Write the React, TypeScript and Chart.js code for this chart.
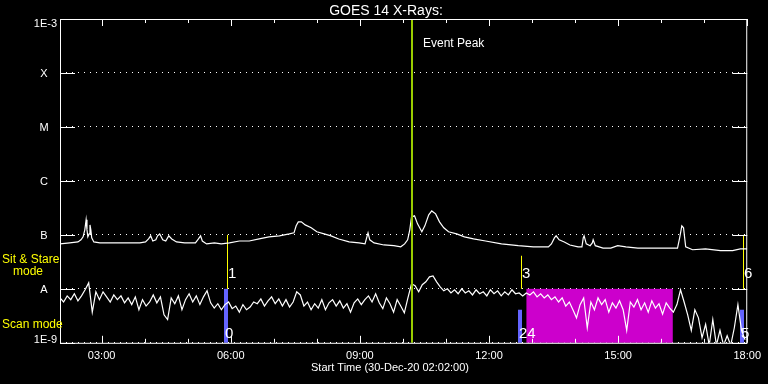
import { useEffect, useRef } from "react";
import { Chart, registerables } from "chart.js";

Chart.register(...registerables);

// ---- axis definitions ----
const startHour = 2 + 2 / 60; // 02:02
const endHour = 18;
const timeTicks = [3, 6, 9, 12, 15, 18];
const timeTickLabels = ["03:00", "06:00", "09:00", "12:00", "15:00", "18:00"];
const minorTickHours = [4, 5, 7, 8, 10, 11, 13, 14, 16, 17];
// flux in nW/m^2 (1 = 1E-9 W/m^2)
const fluxTicks = [1, 10, 100, 1000, 10000, 100000, 1000000];
const fluxTickLabels = ["1E-9", "A", "B", "C", "M", "X", "1E-3"];

const chartTitle = "GOES 14 X-Rays:";
const xTitle = "Start Time (30-Dec-20 02:02:00)";

// ---- long channel (1-8 A), hours / nW m^-2 ----
const longTimes = [
  2.03, 2.26, 2.45, 2.52, 2.57, 2.61, 2.64, 2.66, 2.68, 2.71,
  2.73, 2.75, 2.77, 2.82, 2.96, 3.42, 3.89, 4.02, 4.09, 4.14,
  4.19, 4.26, 4.30, 4.35, 4.42, 4.49, 4.56, 4.63, 4.74, 4.93,
  5.18, 5.25, 5.30, 5.34, 5.44, 5.62, 5.78, 5.97, 6.20, 6.43,
  6.66, 6.89, 7.13, 7.36, 7.47, 7.52, 7.57, 7.64, 7.73, 7.87,
  8.00, 8.17, 8.33, 8.51, 8.75, 8.98, 9.12, 9.17, 9.19, 9.23,
  9.33, 9.56, 9.79, 9.95, 10.04, 10.11, 10.16, 10.20, 10.27, 10.34,
  10.44, 10.51, 10.60, 10.67, 10.76, 10.85, 10.95, 11.06, 11.25, 11.43,
  11.64, 11.92, 12.29, 12.68, 13.03, 13.38, 13.45, 13.52, 13.56, 13.63,
  13.75, 13.88, 14.07, 14.16, 14.19, 14.21, 14.26, 14.35, 14.40, 14.42,
  14.47, 14.65, 14.83, 14.99, 15.18, 15.46, 15.81, 16.15, 16.38, 16.43,
  16.48, 16.52, 16.57, 16.73, 17.03, 17.38, 17.66, 17.84, 18.00,
];
const longFlux = [
  68, 71, 74, 81, 92, 124, 190, 124, 92, 104,
  153, 124, 88, 74, 71, 71, 71, 74, 84, 96,
  77, 81, 96, 104, 81, 77, 96, 84, 74, 71,
  71, 84, 96, 77, 68, 71, 68, 71, 77, 77,
  84, 92, 96, 104, 109, 147, 174, 174, 153, 135,
  114, 104, 96, 84, 74, 71, 68, 96, 109, 81,
  71, 65, 63, 60, 68, 81, 124, 215, 225, 160,
  114, 147, 235, 278, 245, 174, 135, 114, 104, 92,
  84, 77, 68, 63, 60, 60, 68, 88, 96, 81,
  74, 65, 60, 60, 88, 96, 68, 63, 71, 81,
  63, 57, 57, 63, 60, 57, 57, 57, 57, 88,
  147, 135, 60, 53, 55, 51, 51, 55, 55,
];

// ---- short channel (0.5-4 A), 5-minute samples from 02:02, nW m^-2 ----
const shortStepMinutes = 5;
const shortFlux = [
  6.8, 5.7, 7.4, 6.3, 8.1, 6.0, 7.4, 9.6, 12.9, 3.7,
  8.8, 6.3, 8.8, 7.1, 5.7, 7.7, 6.3, 7.4, 5.5, 6.8,
  5.1, 7.1, 4.1, 6.3, 4.8, 5.7, 7.7, 5.5, 7.1, 3.3,
  2.7, 6.8, 5.3, 7.4, 4.1, 6.3, 8.1, 5.7, 7.4, 5.1,
  7.1, 9.2, 5.5, 4.4, 5.3, 4.1, 5.1, 5.7, 4.3, 4.8,
  3.7, 5.1, 4.1, 4.6, 5.7, 5.3, 6.5, 4.8, 6.0, 7.1,
  5.3, 6.5, 4.8, 6.3, 4.6, 5.7, 8.8, 7.7, 4.8, 5.7,
  4.1, 5.3, 4.4, 6.3, 4.1, 5.5, 6.3, 4.8, 6.0, 4.4,
  5.3, 3.7, 5.5, 6.5, 5.1, 6.3, 7.4, 5.7, 8.1, 5.5,
  4.3, 6.8, 5.3, 3.7, 6.3, 4.8, 3.6, 6.8, 12.4, 11.4,
  8.8, 11.9, 13.5, 16.7, 17.4, 13.5, 10.9, 9.2, 10, 8.4,
  9.6, 8.1, 10, 8.4, 9.2, 7.7, 9.6, 8.1, 8.8, 7.4,
  9.6, 8.1, 9.2, 7.4, 8.8, 7.7, 9.6, 8.1, 8.4, 7.4,
  8.4, 7.7, 8.8, 7.1, 8.1, 6.8, 7.7, 6.3, 7.1, 5.7,
  6.8, 4.8, 5.7, 4.1, 2.9, 5.1, 6.8, 1.9, 5.7, 4.1,
  6.8, 5.1, 6.3, 3.7, 5.5, 4.4, 6.0, 4.1, 1.7, 5.7,
  4.6, 6.3, 4.1, 5.5, 3.7, 6.0, 4.4, 5.3, 3.4, 5.5,
  4.4, 3.7, 5.1, 9.6, 5.7, 3.3, 1.7, 4.1, 2.9, 1.24,
  2.2, 0.9, 2.7, 0.9, 1.7, 0.9, 1.35, 0.9, 1.9, 5.1,
  1.7, 1.14,
];

// ---- annotations ----
const eventPeakHour = 10.21;
const eventPeakLabel = "Event Peak";
const sitStareHours = [5.92, 12.75, 17.91];
const sitStareTop = [100, 41, 100];
const sitStareLabels = ["1", "3", "6"];
const scanHours = [5.88, 12.72, 17.87];
const scanTop = [10, 4.1, 4.1];
const scanLabels = ["0", "24", "5"];
const shadeStartHour = 12.87;
const shadeEndHour = 16.27;
const modeBaseFlux = 10; // A level

const FONT = "'Liberation Sans', Arial, sans-serif";

const overlayPlugin = {
  id: "goesOverlay",
  beforeDraw(chart: any) {
    const ctx = chart.ctx;
    ctx.save();
    ctx.fillStyle = "#000";
    ctx.fillRect(0, 0, chart.width, chart.height);
    ctx.restore();
  },
  beforeDatasetsDraw(chart: any) {
    const ctx = chart.ctx;
    const xs = chart.scales.x;
    const ys = chart.scales.y;
    const area = chart.chartArea;
    ctx.save();
    // magenta shaded block
    const sx0 = xs.getPixelForValue(shadeStartHour);
    const sx1 = xs.getPixelForValue(shadeEndHour);
    const sy0 = ys.getPixelForValue(modeBaseFlux);
    ctx.fillStyle = "#cc00cc";
    ctx.fillRect(sx0, sy0, sx1 - sx0, area.bottom - sy0);
    // scan-mode bars
    ctx.fillStyle = "#6464ff";
    scanHours.forEach((h, i) => {
      const x = xs.getPixelForValue(h);
      const yt = ys.getPixelForValue(scanTop[i]);
      ctx.fillRect(Math.round(x) - 2, yt, 4, area.bottom - yt);
    });
    // sit & stare lines
    ctx.strokeStyle = "#ffff00";
    ctx.lineWidth = 1;
    sitStareHours.forEach((h, i) => {
      const x = Math.round(xs.getPixelForValue(h)) + 0.5;
      const yb = ys.getPixelForValue(modeBaseFlux);
      const yt = ys.getPixelForValue(sitStareTop[i]);
      ctx.beginPath();
      ctx.moveTo(x, yb);
      ctx.lineTo(x, yt);
      ctx.stroke();
    });
    ctx.restore();
  },
  afterDatasetsDraw(chart: any) {
    const ctx = chart.ctx;
    const xs = chart.scales.x;
    const ys = chart.scales.y;
    const area = chart.chartArea;
    ctx.save();
    // event peak line
    const ex = xs.getPixelForValue(eventPeakHour);
    ctx.strokeStyle = "#99cc00";
    ctx.lineWidth = 2;
    ctx.beginPath();
    ctx.moveTo(Math.round(ex), area.top);
    ctx.lineTo(Math.round(ex), area.bottom);
    ctx.stroke();

    // box
    ctx.strokeStyle = "#fff";
    ctx.lineWidth = 1;
    ctx.strokeRect(area.left + 0.5, area.top + 0.5, area.right - area.left - 1, area.bottom - area.top);

    // y tick marks (both sides)
    ctx.beginPath();
    fluxTicks.forEach((v) => {
      const y = Math.round(ys.getPixelForValue(v)) + 0.5;
      ctx.moveTo(area.left, y);
      ctx.lineTo(area.left + 15, y);
      ctx.moveTo(area.right - 15, y);
      ctx.lineTo(area.right, y);
    });
    // x tick marks top & bottom
    const drawXTick = (h: number, len: number) => {
      const x = Math.round(xs.getPixelForValue(h)) + 0.5;
      ctx.moveTo(x, area.top);
      ctx.lineTo(x, area.top + len);
      ctx.moveTo(x, area.bottom);
      ctx.lineTo(x, area.bottom - len);
    };
    timeTicks.forEach((h) => drawXTick(h, 7));
    minorTickHours.forEach((h) => drawXTick(h, 4));
    ctx.stroke();

    // y tick labels
    ctx.fillStyle = "#fff";
    ctx.font = `11px ${FONT}`;
    ctx.textBaseline = "alphabetic";
    fluxTicks.forEach((v, i) => {
      let y = ys.getPixelForValue(v);
      y = Math.min(Math.max(y, area.top + 4), area.bottom - 3.5);
      const lab = fluxTickLabels[i];
      if (lab.length > 1) {
        ctx.textAlign = "right";
        ctx.fillText(lab, area.left - 3, y + 4);
      } else {
        ctx.textAlign = "center";
        ctx.fillText(lab, area.left - 16, y + 4);
      }
    });

    // x-axis title
    ctx.font = `11px ${FONT}`;
    ctx.textAlign = "center";
    ctx.fillText(xTitle, 390, area.bottom + 28);

    // title
    ctx.font = `14px ${FONT}`;
    ctx.textAlign = "center";
    ctx.fillText(chartTitle, 386, area.top - 4);

    // event label
    ctx.font = `12px ${FONT}`;
    ctx.textAlign = "left";
    ctx.fillText(eventPeakLabel, Math.round(ex) + 11, area.top + 28);

    // mode labels on the left
    ctx.fillStyle = "#ffff00";
    ctx.font = `12px ${FONT}`;
    ctx.textAlign = "left";
    ctx.fillText("Sit & Stare", 2, 263);
    ctx.fillText("mode", 13, 275);
    ctx.fillText("Scan mode", 2, 328);

    // marker numbers
    ctx.fillStyle = "#fff";
    ctx.font = `15px ${FONT}`;
    const aY = ys.getPixelForValue(modeBaseFlux);
    sitStareHours.forEach((h, i) => {
      const x = Math.round(xs.getPixelForValue(h));
      ctx.fillText(sitStareLabels[i], x + 1, aY - 11);
    });
    scanHours.forEach((h, i) => {
      const x = Math.round(xs.getPixelForValue(h));
      ctx.fillText(scanLabels[i], x - 1, area.bottom - 5);
    });
    ctx.restore();
  },
};

export default function App() {
  const canvasRef = useRef<HTMLCanvasElement | null>(null);

  useEffect(() => {
    document.body.style.margin = "0";
    document.body.style.background = "#000";
    const canvas = canvasRef.current;
    if (!canvas) return;

    const longData = longTimes.map((t, i) => ({ x: t, y: longFlux[i] }));
    const shortData = shortFlux.map((v, i) => ({
      x: startHour + (i * shortStepMinutes) / 60,
      y: v,
    }));

    const chart = new Chart(canvas, {
      type: "line",
      data: {
        datasets: [
          {
            label: "1.0-8.0 A",
            data: longData,
            borderColor: "#ffffff",
            borderWidth: 1.2,
            pointRadius: 0,
            tension: 0,
            fill: false,
          },
          {
            label: "0.5-4.0 A",
            data: shortData,
            borderColor: "#ffffff",
            borderWidth: 1.2,
            pointRadius: 0,
            tension: 0,
            fill: false,
          },
        ],
      },
      options: {
        animation: false,
        responsive: false,
        maintainAspectRatio: false,
        layout: { padding: { left: 60, right: 18, top: 19, bottom: 14 } },
        plugins: {
          legend: { display: false },
          tooltip: { enabled: false },
          title: { display: false },
        },
        scales: {
          x: {
            type: "linear",
            min: startHour,
            max: endHour,
            afterBuildTicks: (scale: any) => {
              scale.ticks = timeTicks.map((v) => ({ value: v }));
            },
            ticks: {
              callback: (_v: any, i: number) => timeTickLabels[i],
              color: "#ffffff",
              font: { family: FONT, size: 11 },
              maxRotation: 0,
              autoSkip: false,
              padding: 7,
            },
            grid: { display: false, drawTicks: false },
            border: { display: false },
          },
          y: {
            type: "logarithmic",
            min: 1,
            max: 1000000,
            afterBuildTicks: (scale: any) => {
              scale.ticks = fluxTicks.map((v) => ({ value: v }));
            },
            ticks: { display: false },
            grid: { color: "#ffffff", lineWidth: 1, drawTicks: false },
            border: { display: false, dash: [1, 5] },
          },
        },
      },
      plugins: [overlayPlugin],
    });

    return () => chart.destroy();
  }, []);

  return (
    <div style={{ width: 768, height: 384, background: "#000" }}>
      <canvas ref={canvasRef} width={768} height={384} style={{ display: "block" }} />
    </div>
  );
}
